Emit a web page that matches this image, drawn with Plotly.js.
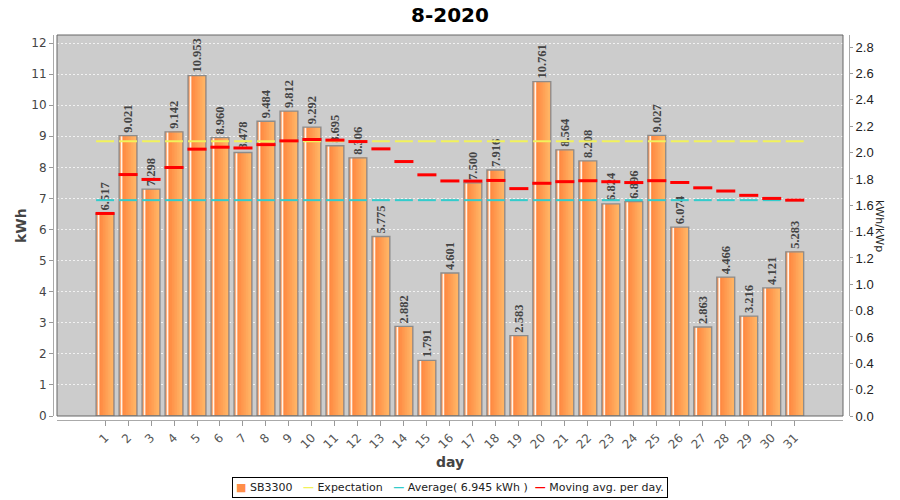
<!DOCTYPE html>
<html><head><meta charset="utf-8">
<script src="https://cdn.plot.ly/plotly-3.0.1.min.js"></script>
<style>html,body{margin:0;padding:0;background:#fff}#chart{width:900px;height:500px}</style>
</head><body><div id="chart"></div>
<script>
// ---- data ----
const days = [1,2,3,4,5,6,7,8,9,10,11,12,13,14,15,16,17,18,19,20,21,22,23,24,25,26,27,28,29,30,31];
const dayLabels = ["1","2","3","4","5","6","7","8","9","10","11","12","13","14","15","16","17","18","19","20","21","22","23","24","25","26","27","28","29","30","31"];
const production = [6.517, 9.021, 7.298, 9.142, 10.953, 8.960, 8.478, 9.484, 9.812, 9.292, 8.695, 8.306, 5.775, 2.882, 1.791, 4.601, 7.500, 7.916, 2.583, 10.761, 8.564, 8.208, 6.824, 6.896, 9.027, 6.074, 2.863, 4.466, 3.216, 4.121, 5.283];
const movingAvg = [6.517, 7.769, 7.612, 7.995, 8.586, 8.649, 8.624, 8.732, 8.852, 8.896, 8.877, 8.830, 8.595, 8.187, 7.760, 7.563, 7.559, 7.579, 7.316, 7.488, 7.540, 7.570, 7.538, 7.511, 7.571, 7.514, 7.342, 7.239, 7.100, 7.001, 6.945];
const expectationKWh = 8.84;
const averageKWh = 6.945;
const seriesNames = ['SB3300', 'Expectation', 'Average( ' + averageKWh.toFixed(3) + ' kWh )', 'Moving avg. per day.'];
const leftRange = [0, 12.259];
const rightRange = [0, 2.893];

// ---- colours ----
const cBar = '#FF8E48', cExp = '#F2F25A', cAvg = '#33CCCC', cMov = '#FF0000';

// ---- layout geometry (px) ----
const ML = 53, MR = 51, MT = 35, MB = 80;
const PW = 900 - ML - MR, PH = 500 - MT - MB;
const xDom = [(57 - ML) / PW, (843 - ML) / PW];
const yDom = [(500 - MB - 416) / PH, 1];
const px = v => (v - ML) / PW;          // page x -> paper x
const py = v => (500 - MB - v) / PH;    // page y -> paper y

const barW = 0.78;
const traces = [];
// base bar
traces.push({type:'bar', x:days, y:production, width:barW, name:seriesNames[0],
  marker:{color:cBar, line:{width:0}}, hoverinfo:'skip', showlegend:false});
// gradient strips
const stripColors = ['#FF8A42','#FF9047','#FF964C','#FF9C51','#FFA256','#FFA85B','#FFAE60','#FFB464'];
const inner0 = -0.24, inner1 = 0.35;
stripColors.forEach((c, i) => {
  const o = inner0 + (inner1 - inner0) * i / stripColors.length;
  traces.push({type:'bar', x:days, y:production, width:inner1 - o, offset:o,
    marker:{color:c, line:{width:0}}, showlegend:false, hoverinfo:'skip'});
});
// white highlight stripe
traces.push({type:'bar', x:days, y:production, width:0.075, offset:-0.32,
  marker:{color:'#FFF4EA', line:{width:0}}, showlegend:false, hoverinfo:'skip'});
// outline + value labels
traces.push({type:'bar', x:days, y:production, width:barW,
  marker:{color:'rgba(0,0,0,0)', line:{color:'#8C8C8C', width:1.3}},
  text: production.map(v => v.toFixed(3)), textposition:'outside', textangle:-90,
  constraintext:'none', cliponaxis:false,
  textfont:{family:'Liberation Serif', size:12.5, color:'#444', weight:'bold'},
  showlegend:false, hoverinfo:'skip'});
// expectation
traces.push({type:'scatter', mode:'markers', x:days, y:days.map(() => expectationKWh),
  name:seriesNames[1], showlegend:false,
  marker:{symbol:'line-ew', size:12.8, color:cExp, line:{color:cExp, width:2}}, hoverinfo:'skip'});
// average
traces.push({type:'scatter', mode:'markers', x:days, y:days.map(() => averageKWh),
  name:seriesNames[2], showlegend:false,
  marker:{symbol:'line-ew', size:12.8, color:cAvg, line:{color:cAvg, width:2}}, hoverinfo:'skip'});
// moving average
traces.push({type:'scatter', mode:'markers', x:days, y:movingAvg,
  name:seriesNames[3], showlegend:false,
  marker:{symbol:'line-ew', size:13.6, color:cMov, line:{color:cMov, width:3}}, hoverinfo:'skip'});
// carrier for the right-hand axis (kWh/kWp)
traces.push({type:'scatter', mode:'markers', x:[null], y:[null], yaxis:'y2', showlegend:false, hoverinfo:'skip'});

const sp = '\u00a0';
const legendText =
  '<span style="color:' + cBar + '">■</span>' + sp + seriesNames[0] + sp + sp + sp +
  '<span style="color:' + cExp + '"><b>—</b></span>' + sp + seriesNames[1] + sp + sp + sp +
  '<span style="color:' + cAvg + '"><b>—</b></span>' + sp + seriesNames[2].replace(/ /g, sp) + sp + sp +
  '<span style="color:' + cMov + '"><b>—</b></span>' + sp + seriesNames[3].replace(/ /g, sp);

const layout = {
  width:900, height:500,
  margin:{l:ML, r:MR, t:MT, b:MB, pad:0, autoexpand:false},
  paper_bgcolor:'#FFFFFF', plot_bgcolor:'#CCCCCC',
  barmode:'overlay', hovermode:false, showlegend:false,
  title:{text:'8-2020', font:{family:'DejaVu Sans', size:20, color:'#000', weight:'bold'},
    x:0.5, xref:'container', y:1 - 15/500, yref:'container', yanchor:'middle'},
  xaxis:{domain:xDom, anchor:'free', position:0, range:[-1.09, 33.1], automargin:false,
    tickmode:'array', tickvals:days, ticktext:dayLabels, tickangle:-45,
    ticks:'outside', ticklen:5, tickcolor:'#999', showline:true, linecolor:'#AAAAAA', linewidth:1,
    showgrid:false, zeroline:false,
    tickfont:{family:'DejaVu Sans', size:12, color:'#555'}},
  yaxis:{domain:yDom, anchor:'free', position:0, range:leftRange, dtick:1, tick0:0, automargin:false,
    ticks:'outside', ticklen:4, tickcolor:'#999', showline:true, linecolor:'#AAAAAA', linewidth:1,
    showgrid:true, gridcolor:'#F2F2F2', griddash:'2px,2px', gridwidth:1, zeroline:false,
    tickfont:{family:'DejaVu Sans', size:12, color:'#444'}},
  yaxis2:{overlaying:'y', side:'right', anchor:'free', position:1, range:rightRange, dtick:0.2, tick0:0,
    tickformat:'.1f', showgrid:false, zeroline:false, automargin:false,
    ticks:'outside', ticklen:3, tickcolor:'#999', showline:true, linecolor:'#AAAAAA', linewidth:1,
    tickfont:{family:'Liberation Sans', size:13, color:'#222'}},
  shapes:[{type:'rect', xref:'paper', yref:'paper', x0:xDom[0], x1:xDom[1], y0:yDom[0], y1:1,
    line:{color:'#666', width:1}, fillcolor:'rgba(0,0,0,0)', layer:'above'}],
  annotations:[
    {text:'kWh', xref:'paper', yref:'paper', x:px(21), y:py(226), xanchor:'center', yanchor:'middle',
      showarrow:false, textangle:-90,
      font:{family:'DejaVu Sans', size:14, color:'#444', weight:'bold'}},
    {text:'day', xref:'paper', yref:'paper', x:px(450), y:py(462), xanchor:'center', yanchor:'middle',
      showarrow:false,
      font:{family:'DejaVu Sans', size:14, color:'#444', weight:'bold'}},
    {text:'kWh/kWp', xref:'paper', yref:'paper', x:px(880), y:py(226), xanchor:'center', yanchor:'middle',
      showarrow:false, textangle:90,
      font:{family:'DejaVu Sans', size:11, color:'#222'}},
    {text:legendText, xref:'paper', yref:'paper', x:px(450), y:py(487), xanchor:'center', yanchor:'middle',
      showarrow:false, bordercolor:'#000', borderwidth:1, borderpad:3, bgcolor:'#FFF',
      font:{family:'DejaVu Sans', size:11, color:'#222'}}
  ]
};
Plotly.newPlot('chart', traces, layout, {displayModeBar:false, staticPlot:true});
</script></body></html>
